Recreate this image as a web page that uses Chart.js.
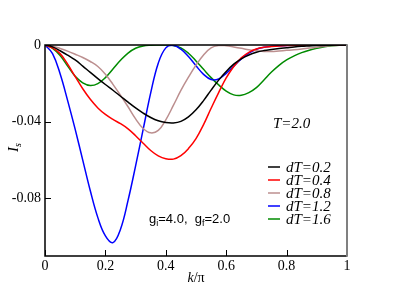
<!DOCTYPE html>
<html>
<head>
<meta charset="utf-8">
<script src="https://cdn.jsdelivr.net/npm/chart.js@4.4.1/dist/chart.umd.min.js"></script>
<style>
  html, body { margin: 0; padding: 0; background: #fff; }
  #wrap { width: 415px; height: 294px; }
</style>
</head>
<body>
<div id="wrap"><canvas id="chart" width="415" height="294"></canvas></div>
<script>
// k/pi grid shared by all curves
const kValues = [0, 0.025, 0.05, 0.075, 0.1, 0.125, 0.15, 0.175, 0.2, 0.225,
  0.25, 0.275, 0.3, 0.325, 0.35, 0.375, 0.4, 0.425, 0.45, 0.475,
  0.5, 0.525, 0.55, 0.575, 0.6, 0.625, 0.65, 0.675, 0.7, 0.725,
  0.75, 0.775, 0.8, 0.825, 0.85, 0.875, 0.9, 0.925, 0.95, 0.975, 1];

// I_s for each dT
const is02 = [0, -0.001, -0.003, -0.0053, -0.0078, -0.011, -0.0143, -0.0175, -0.0206, -0.0236,
  -0.0267, -0.0298, -0.0328, -0.0355, -0.0378, -0.0395, -0.0404, -0.0406, -0.0398, -0.0375,
  -0.0338, -0.029, -0.0235, -0.0183, -0.0138, -0.010, -0.0072, -0.0052, -0.0038, -0.0029,
  -0.0023, -0.0018, -0.0014, -0.001, -0.0007, -0.0005, -0.0003, -0.0002, -0.0001, 0, 0];
const is04 = [0, -0.0015, -0.0045, -0.010, -0.0165, -0.0228, -0.0283, -0.0328, -0.0362, -0.0388,
  -0.041, -0.0437, -0.0473, -0.0512, -0.055, -0.0578, -0.0593, -0.0595, -0.0577, -0.054,
  -0.0488, -0.0415, -0.033, -0.0248, -0.0172, -0.0112, -0.0067, -0.0038, -0.0021, -0.0012,
  -0.0008, -0.0005, -0.0003, -0.0002, -0.0001, -0.0001, 0, 0, 0, 0, 0];
const is08 = [0, -0.0006, -0.0018, -0.0032, -0.0048, -0.0065, -0.0086, -0.0112, -0.0152, -0.0205,
  -0.0262, -0.0322, -0.0385, -0.0435, -0.0458, -0.0445, -0.039, -0.0315, -0.0237, -0.0168,
  -0.0105, -0.0052, -0.0015, -0.0003, -0.0004, -0.001, -0.0017, -0.0025, -0.003, -0.0034,
  -0.0034, -0.0031, -0.0028, -0.0025, -0.0021, -0.0016, -0.0012, -0.0007, -0.0003, -0.0001, 0];
const is12 = [0, -0.0045, -0.015, -0.029, -0.044, -0.060, -0.076, -0.090, -0.0995, -0.103,
  -0.096, -0.081, -0.063, -0.044, -0.025, -0.0095, -0.0015, -0.0002, -0.0022, -0.006,
  -0.0108, -0.0153, -0.018, -0.0177, -0.0148, -0.011, -0.0072, -0.0042, -0.0022, -0.0012,
  -0.0007, -0.0004, -0.0002, -0.0001, 0, 0, 0, 0, 0, 0, 0];
const is16 = [0, -0.0018, -0.0055, -0.011, -0.0163, -0.0197, -0.0211, -0.0201, -0.017, -0.0125,
  -0.008, -0.0042, -0.0017, -0.0005, -0.0001, 0, 0, -0.0003, -0.0015, -0.0043,
  -0.0083, -0.0127, -0.017, -0.0208, -0.0240, -0.0260, -0.0262, -0.0248, -0.0222, -0.0182,
  -0.0141, -0.0106, -0.0078, -0.0057, -0.004, -0.0027, -0.0017, -0.0009, -0.0004, -0.0001, 0];

const seriesLabels = ['dT=0.2', 'dT=0.4', 'dT=0.8', 'dT=1.2', 'dT=1.6'];
const seriesData = [is02, is04, is08, is12, is16];
const seriesColors = ['#000000', '#ff0000', '#bc8f8f', '#0000ff', '#008b00'];

const xTicks = [0, 0.2, 0.4, 0.6, 0.8, 1];
const yTicks = [-0.08, -0.04, 0];

const serif = "'Liberation Serif', 'Times New Roman', serif";
const sans = "'Liberation Sans', Arial, sans-serif";

// frame, inward ticks and the annotations
const decor = {
  id: 'decor',
  afterDraw(chart) {
    const ctx = chart.ctx;
    const a = chart.chartArea;
    const sx = chart.scales.x, sy = chart.scales.y;
    ctx.save();

    // tick marks pointing inside
    ctx.strokeStyle = '#000';
    ctx.lineWidth = 1;
    ctx.beginPath();
    xTicks.forEach(v => {
      const px = Math.round(sx.getPixelForValue(v)) + 0.5;
      ctx.moveTo(px, a.bottom); ctx.lineTo(px, a.bottom - 6);
    });
    yTicks.forEach(v => {
      const py = Math.round(sy.getPixelForValue(v)) + 0.5;
      ctx.moveTo(a.left, py); ctx.lineTo(a.left + 6, py);
    });
    ctx.stroke();

    // box
    ctx.lineWidth = 1.5;
    ctx.strokeStyle = '#000';
    ctx.beginPath();
    ctx.moveTo(a.right, a.top); ctx.lineTo(a.left, a.top);
    ctx.lineTo(a.left, a.bottom); ctx.lineTo(a.right, a.bottom);
    ctx.stroke();
    ctx.strokeStyle = '#808080';
    ctx.lineWidth = 2;
    ctx.beginPath();
    ctx.moveTo(a.right, a.top - 0.75); ctx.lineTo(a.right, a.bottom + 0.75);
    ctx.stroke();

    ctx.fillStyle = '#000';
    ctx.textBaseline = 'alphabetic';

    // x title: k/π
    ctx.font = 'italic 14px ' + serif;
    const kw = ctx.measureText('k').width;
    ctx.font = '14px ' + serif;
    const rw = ctx.measureText('/π').width;
    let tx = (a.left + a.right) / 2 - (kw + rw) / 2;
    ctx.font = 'italic 14px ' + serif;
    ctx.textAlign = 'left';
    ctx.fillText('k', tx, 282);
    ctx.font = '14px ' + serif;
    ctx.fillText('/π', tx + kw, 282);

    // y title: I_s
    ctx.save();
    ctx.translate(18, 146);
    ctx.rotate(-Math.PI / 2);
    ctx.font = 'italic 15px ' + serif;
    ctx.textAlign = 'left';
    const iw = ctx.measureText('I').width;
    ctx.fillText('I', -6, 0);
    ctx.font = 'italic 10px ' + serif;
    ctx.fillText('s', -6 + iw, 3);
    ctx.restore();

    // T=2.0
    ctx.font = 'italic 15px ' + serif;
    ctx.textAlign = 'left';
    ctx.fillText('T=2.0', 273, 128);

    // legend
    const rowY = [167, 180, 193, 206, 219];
    chart.data.datasets.forEach((ds, i) => {
      ctx.strokeStyle = ds.borderColor;
      ctx.lineWidth = 1.5;
      ctx.beginPath();
      ctx.moveTo(268, rowY[i]); ctx.lineTo(280, rowY[i]);
      ctx.stroke();
      ctx.font = 'italic 15px ' + serif;
      ctx.fillText(ds.label, 286, rowY[i] + 5);
    });

    // g_i=4.0,  g_f=2.0
    let gx = 149;
    const gy = 223;
    const part = (txt, size, dy) => {
      ctx.font = size + 'px ' + sans;
      ctx.fillText(txt, gx, gy + dy);
      gx += ctx.measureText(txt).width;
    };
    part('g', 13, 0); part('i', 9, 3); part('=4.0,  g', 13, 0); part('f', 9, 3); part('=2.0', 13, 0);

    ctx.restore();
  }
};

const datasets = seriesLabels.map((lab, i) => ({
  label: lab,
  data: kValues.map((k, j) => ({ x: k, y: seriesData[i][j] })),
  borderColor: seriesColors[i],
  borderWidth: 1.5,
  pointRadius: 0,
  fill: false,
  tension: 0.4
}));

new Chart(document.getElementById('chart'), {
  type: 'line',
  data: { datasets: datasets },
  plugins: [decor],
  options: {
    responsive: false,
    animation: false,
    layout: { padding: { top: 45, right: 68, left: 0, bottom: 0 } },
    plugins: { legend: { display: false }, tooltip: { enabled: false } },
    scales: {
      x: {
        type: 'linear', min: 0, max: 1,
        afterBuildTicks: s => { s.ticks = xTicks.map(v => ({ value: v })); },
        afterFit: s => { s.height = 38; },
        ticks: {
          color: '#000', padding: 2, maxRotation: 0,
          font: { family: serif, size: 14 },
          callback: v => (v === 0 || v === 1) ? String(v) : v.toFixed(1)
        },
        grid: { display: false, drawTicks: false },
        border: { display: false }
      },
      y: {
        type: 'linear', min: -0.11, max: 0,
        afterBuildTicks: s => { s.ticks = yTicks.map(v => ({ value: v })); },
        afterFit: s => { s.width = 45; },
        ticks: {
          color: '#000', padding: 4,
          font: { family: serif, size: 14 },
          callback: v => v === 0 ? '0' : v.toFixed(2)
        },
        grid: { display: false, drawTicks: false },
        border: { display: false }
      }
    }
  }
});
</script>
</body>
</html>
